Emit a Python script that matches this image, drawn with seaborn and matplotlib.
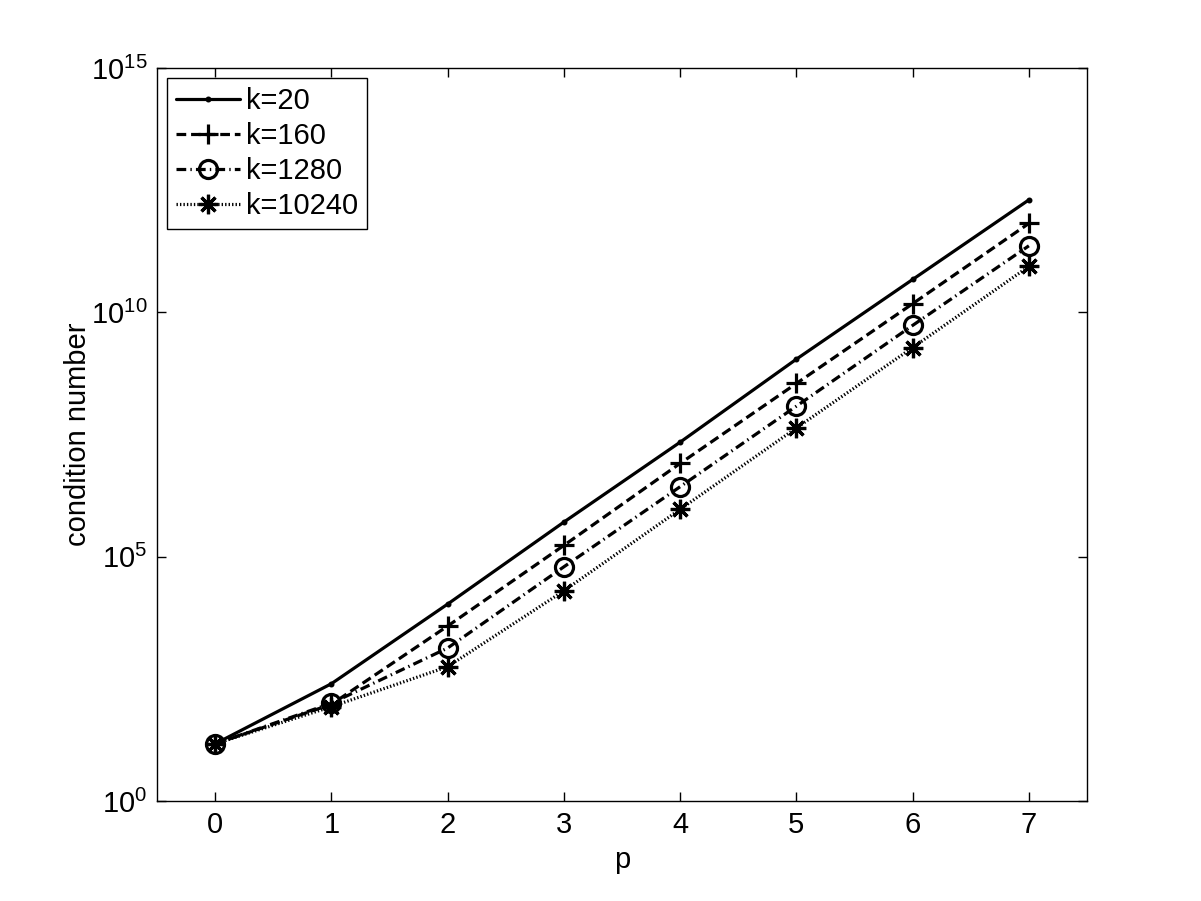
import numpy as np
import pandas as pd
import seaborn as sns
import matplotlib.pyplot as plt
from matplotlib.ticker import FixedLocator, NullLocator

# values (condition number vs p)
p_values = [0, 1, 2, 3, 4, 5, 6, 7]
cond_k20 = [14.8, 251, 1.07e4, 5.1e5, 2.2e7, 1.1e9, 4.7e10, 2.0e12]
cond_k160 = [14.8, 95, 3.8e3, 1.7e5, 8.1e6, 3.5e8, 1.5e10, 6.6e11]
cond_k1280 = [14.8, 100, 1.35e3, 6.2e4, 2.7e6, 1.2e8, 5.4e9, 2.3e11]
cond_k10240 = [14.8, 85, 560, 2.0e4, 9.3e5, 4.3e7, 1.9e9, 8.7e10]

series_labels = ['k=20', 'k=160', 'k=1280', 'k=10240']
series_values = [cond_k20, cond_k160, cond_k1280, cond_k10240]

sns.set_style('ticks')
plt.rcParams['font.family'] = ['Liberation Sans', 'DejaVu Sans']
plt.rcParams['lines.scale_dashes'] = False
for key in ['text.color', 'axes.labelcolor', 'xtick.color', 'ytick.color']:
    plt.rcParams[key] = 'black'

fig = plt.figure(figsize=(12.01, 9.01), dpi=100)
ax = fig.add_axes([157 / 1201, (901 - 801) / 901, (1087 - 157) / 1201, (801 - 68) / 901])

styles = {
    'k=20': dict(linestyle='-', marker='.', markersize=4, markerfacecolor='black'),
    'k=160': dict(linestyle=(0, (7, 3.5)), marker='+', markersize=15),
    'k=1280': dict(linestyle=(0, (7, 3, 1, 3)), marker='o', markersize=13,
                   markerfacecolor='none'),
    'k=10240': dict(linestyle=(0, (1, 1.5)), marker=(8, 2, 0), markersize=14),
}

for label, vals in zip(series_labels, series_values):
    df = pd.DataFrame({'p': p_values, 'cond': vals})
    sns.lineplot(data=df, x='p', y='cond', ax=ax, color='black', label=label,
                 linewidth=2.3, markeredgecolor='black', markeredgewidth=2.3,
                 **styles[label])

ax.set_yscale('log')
ax.set_ylim(1, 1e15)
ax.set_xlim(-0.5, 7.5)
ax.set_xticks(p_values)
ax.yaxis.set_major_locator(FixedLocator([1, 1e5, 1e10, 1e15]))
ax.yaxis.set_minor_locator(NullLocator())
ax.tick_params(direction='in', length=6.5, width=1, top=True, right=True,
               labelsize=21, pad=7, colors='black')
for s in ax.spines.values():
    s.set_linewidth(1.0)
    s.set_color('black')

ax.set_xlabel('p', fontsize=21, labelpad=5)
ax.set_ylabel('condition number', fontsize=21, labelpad=-1)

leg = ax.legend(loc='upper left', fontsize=21, frameon=True, fancybox=False,
                edgecolor='black', framealpha=1, handlelength=2.2,
                labelspacing=0.24, borderaxespad=0.35, handletextpad=0.2,
                borderpad=0.3)
leg.get_frame().set_linewidth(1.0)

fig.savefig('out.png', dpi=100)
